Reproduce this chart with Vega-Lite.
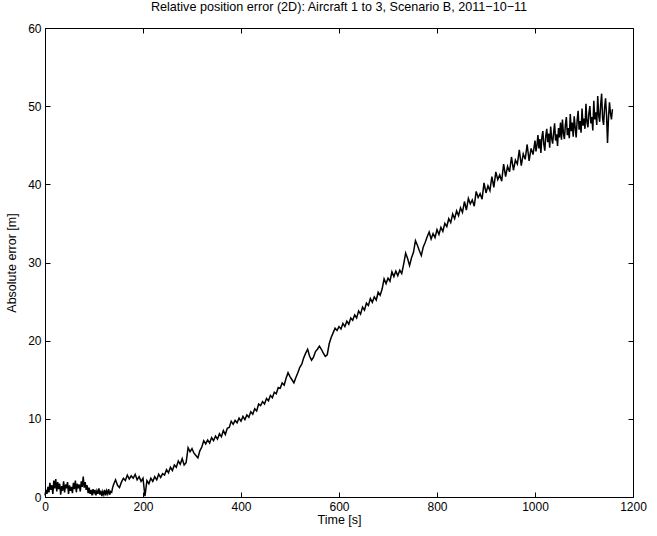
{
  "$schema": "https://vega.github.io/schema/vega-lite/v6.json",
  "autosize": {"type": "none"},
  "width": 588,
  "height": 469,
  "padding": {"left": 45, "top": 28, "right": 24, "bottom": 39},
  "background": "white",
  "title": {
    "text": "Relative position error (2D): Aircraft 1 to 3, Scenario B, 2011−10−11",
    "font": "Liberation Sans",
    "fontSize": 12.6,
    "fontWeight": "normal",
    "color": "black",
    "offset": 8
  },
  "config": {
    "view": {"stroke": null},
    "axis": {
      "domainColor": "black",
      "tickColor": "black",
      "labelColor": "black",
      "titleColor": "black",
      "labelFont": "Liberation Sans",
      "titleFont": "Liberation Sans",
      "labelFontSize": 12,
      "titleFontSize": 12.5,
      "titleFontWeight": "normal",
      "grid": false,
      "tickSize": -5,
      "labelPadding": 9
    }
  },
  "data": {
    "values": [
      {"t":0,"e":0.2},{"t":2,"e":0.9},{"t":4,"e":0.4},{"t":6,"e":1.3},{"t":8,"e":0.6},{"t":10,"e":1.8},{"t":12,"e":0.9},{"t":14,"e":1.5},{"t":16,"e":0.4},{"t":18,"e":2.1},
      {"t":20,"e":1.1},{"t":22,"e":2.3},{"t":24,"e":0.7},{"t":26,"e":1.9},{"t":28,"e":1.0},{"t":30,"e":1.7},{"t":32,"e":0.3},{"t":34,"e":1.4},{"t":36,"e":0.8},{"t":38,"e":2.0},
      {"t":40,"e":0.6},{"t":42,"e":1.6},{"t":44,"e":1.1},{"t":46,"e":1.9},{"t":48,"e":0.4},{"t":50,"e":1.5},{"t":52,"e":0.8},{"t":54,"e":1.3},{"t":56,"e":0.5},{"t":58,"e":1.8},
      {"t":60,"e":1.0},{"t":62,"e":2.1},{"t":64,"e":0.6},{"t":66,"e":1.7},{"t":68,"e":1.1},{"t":70,"e":1.6},{"t":72,"e":0.7},{"t":74,"e":2.0},{"t":76,"e":1.3},{"t":78,"e":2.6},
      {"t":80,"e":1.2},{"t":82,"e":1.9},{"t":84,"e":0.9},{"t":86,"e":1.5},{"t":88,"e":0.5},{"t":90,"e":1.2},{"t":92,"e":0.4},{"t":94,"e":0.9},{"t":96,"e":0.2},{"t":98,"e":1.0},
      {"t":100,"e":0.5},{"t":102,"e":0.9},{"t":104,"e":0.2},{"t":106,"e":0.8},{"t":108,"e":0.4},{"t":110,"e":1.1},{"t":112,"e":0.3},{"t":114,"e":0.8},{"t":116,"e":0.1},{"t":118,"e":0.7},
      {"t":120,"e":0.3},{"t":122,"e":0.9},{"t":124,"e":0.2},{"t":126,"e":0.8},{"t":128,"e":0.4},{"t":130,"e":1.0},{"t":132,"e":0.3},{"t":134,"e":0.7},{"t":136,"e":0.6},{"t":138,"e":1.2},
      {"t":140,"e":1.6},{"t":144,"e":2.2},{"t":148,"e":1.5},{"t":152,"e":1.2},{"t":156,"e":1.9},{"t":160,"e":2.4},{"t":164,"e":2.1},{"t":168,"e":2.8},{"t":172,"e":2.3},{"t":176,"e":2.7},
      {"t":180,"e":2.4},{"t":184,"e":2.9},{"t":188,"e":2.2},{"t":192,"e":2.6},{"t":196,"e":2.0},{"t":200,"e":2.4},{"t":204,"e":0.1},{"t":208,"e":2.1},{"t":212,"e":1.7},{"t":216,"e":2.4},
      {"t":220,"e":2.0},{"t":224,"e":2.6},{"t":228,"e":2.2},{"t":232,"e":2.9},{"t":236,"e":2.5},{"t":240,"e":3.0},{"t":244,"e":2.8},{"t":248,"e":3.5},{"t":252,"e":3.1},{"t":256,"e":3.8},
      {"t":260,"e":3.4},{"t":264,"e":4.1},{"t":268,"e":3.8},{"t":272,"e":4.6},{"t":276,"e":4.2},{"t":280,"e":4.9},{"t":284,"e":4.1},{"t":288,"e":4.4},{"t":292,"e":6.3},{"t":296,"e":5.8},
      {"t":300,"e":6.2},{"t":304,"e":5.6},{"t":308,"e":5.3},{"t":312,"e":5.0},{"t":316,"e":5.9},{"t":320,"e":6.4},{"t":324,"e":7.2},{"t":328,"e":6.8},{"t":332,"e":7.3},{"t":336,"e":6.9},
      {"t":340,"e":7.6},{"t":344,"e":7.2},{"t":348,"e":7.8},{"t":352,"e":7.4},{"t":356,"e":8.1},{"t":360,"e":7.7},{"t":364,"e":8.5},{"t":368,"e":8.0},{"t":372,"e":8.8},{"t":376,"e":8.9},
      {"t":380,"e":9.7},{"t":384,"e":9.3},{"t":388,"e":9.8},{"t":392,"e":9.5},{"t":396,"e":10.1},{"t":400,"e":9.7},{"t":404,"e":10.3},{"t":408,"e":9.9},{"t":412,"e":10.5},{"t":416,"e":10.2},
      {"t":420,"e":10.9},{"t":424,"e":10.6},{"t":428,"e":11.3},{"t":432,"e":11.0},{"t":436,"e":11.9},{"t":440,"e":11.7},{"t":444,"e":12.2},{"t":448,"e":11.9},{"t":452,"e":12.6},{"t":456,"e":12.3},
      {"t":460,"e":13.0},{"t":464,"e":12.7},{"t":468,"e":13.4},{"t":472,"e":13.2},{"t":476,"e":14.0},{"t":480,"e":13.9},{"t":484,"e":14.6},{"t":488,"e":14.3},{"t":492,"e":15.2},{"t":496,"e":15.9},
      {"t":500,"e":15.4},{"t":504,"e":15.0},{"t":508,"e":14.6},{"t":512,"e":15.3},{"t":516,"e":15.9},{"t":520,"e":16.6},{"t":524,"e":17.0},{"t":528,"e":17.8},{"t":532,"e":18.4},{"t":536,"e":18.9},
      {"t":540,"e":18.0},{"t":544,"e":17.5},{"t":548,"e":17.9},{"t":552,"e":18.6},{"t":556,"e":18.9},{"t":560,"e":19.3},{"t":564,"e":18.9},{"t":568,"e":18.4},{"t":572,"e":18.0},{"t":576,"e":18.2},
      {"t":580,"e":19.6},{"t":584,"e":20.4},{"t":588,"e":21.0},{"t":592,"e":21.6},{"t":596,"e":21.3},{"t":600,"e":21.8},{"t":604,"e":21.5},{"t":608,"e":22.2},{"t":612,"e":21.8},{"t":616,"e":22.5},
      {"t":620,"e":22.1},{"t":624,"e":22.9},{"t":628,"e":22.6},{"t":632,"e":23.3},{"t":636,"e":22.9},{"t":640,"e":23.8},{"t":644,"e":23.4},{"t":648,"e":24.3},{"t":652,"e":23.9},{"t":656,"e":24.8},
      {"t":660,"e":24.5},{"t":664,"e":25.4},{"t":668,"e":24.9},{"t":672,"e":25.6},{"t":676,"e":25.2},{"t":680,"e":26.2},{"t":684,"e":25.8},{"t":688,"e":26.6},{"t":692,"e":27.9},{"t":696,"e":27.3},
      {"t":700,"e":28.0},{"t":704,"e":27.6},{"t":708,"e":28.8},{"t":712,"e":28.2},{"t":716,"e":28.9},{"t":720,"e":28.3},{"t":724,"e":29.0},{"t":728,"e":28.6},{"t":732,"e":29.8},{"t":736,"e":31.2},
      {"t":740,"e":30.5},{"t":744,"e":29.6},{"t":748,"e":30.6},{"t":752,"e":31.3},{"t":756,"e":32.8},{"t":760,"e":32.2},{"t":764,"e":31.5},{"t":768,"e":30.9},{"t":772,"e":32.0},{"t":776,"e":32.6},
      {"t":780,"e":33.3},{"t":784,"e":33.9},{"t":788,"e":33.0},{"t":792,"e":33.7},{"t":796,"e":33.2},{"t":800,"e":34.2},{"t":804,"e":33.6},{"t":808,"e":34.5},{"t":812,"e":34.0},{"t":816,"e":35.0},
      {"t":820,"e":34.6},{"t":824,"e":35.6},{"t":828,"e":35.1},{"t":832,"e":36.2},{"t":836,"e":35.6},{"t":840,"e":36.6},{"t":844,"e":36.0},{"t":848,"e":37.0},{"t":852,"e":36.4},{"t":856,"e":37.8},
      {"t":860,"e":36.7},{"t":864,"e":38.2},{"t":868,"e":37.5},{"t":872,"e":38.0},{"t":876,"e":37.2},{"t":880,"e":39.1},{"t":884,"e":38.3},{"t":888,"e":38.8},{"t":892,"e":38.1},{"t":896,"e":40.2},
      {"t":900,"e":38.9},{"t":904,"e":39.8},{"t":908,"e":39.2},{"t":912,"e":41.0},{"t":916,"e":39.6},{"t":920,"e":41.6},{"t":924,"e":40.6},{"t":928,"e":41.2},{"t":932,"e":40.4},{"t":936,"e":42.6},
      {"t":940,"e":41.0},{"t":944,"e":42.3},{"t":948,"e":41.6},{"t":952,"e":43.5},{"t":956,"e":41.8},{"t":960,"e":43.1},{"t":964,"e":42.6},{"t":968,"e":44.4},{"t":972,"e":42.4},{"t":976,"e":43.9},
      {"t":980,"e":43.2},{"t":984,"e":45.1},{"t":988,"e":43.0},{"t":992,"e":44.6},{"t":996,"e":43.8},
      {"t":1000,"e":45.6},{"t":1002,"e":44.2},{"t":1004,"e":45.0},{"t":1006,"e":46.3},{"t":1008,"e":44.6},{"t":1010,"e":45.8},{"t":1012,"e":44.0},{"t":1014,"e":46.0},{"t":1016,"e":46.8},{"t":1018,"e":45.1},
      {"t":1020,"e":44.3},{"t":1022,"e":46.2},{"t":1024,"e":47.1},{"t":1026,"e":45.4},{"t":1028,"e":46.5},{"t":1030,"e":44.7},{"t":1032,"e":47.4},{"t":1034,"e":45.9},{"t":1036,"e":45.2},{"t":1038,"e":46.6},
      {"t":1040,"e":47.8},{"t":1042,"e":45.6},{"t":1044,"e":46.4},{"t":1046,"e":44.9},{"t":1048,"e":47.2},{"t":1050,"e":46.0},{"t":1052,"e":47.9},{"t":1054,"e":45.7},{"t":1056,"e":48.3},{"t":1058,"e":46.5},
      {"t":1060,"e":45.8},{"t":1062,"e":47.6},{"t":1064,"e":48.6},{"t":1066,"e":46.3},{"t":1068,"e":47.2},{"t":1070,"e":45.9},{"t":1072,"e":49.0},{"t":1074,"e":46.8},{"t":1076,"e":47.9},{"t":1078,"e":46.1},
      {"t":1080,"e":48.7},{"t":1082,"e":47.3},{"t":1084,"e":46.0},{"t":1086,"e":48.2},{"t":1088,"e":49.4},{"t":1090,"e":47.0},{"t":1092,"e":48.1},{"t":1094,"e":46.6},{"t":1096,"e":49.7},{"t":1098,"e":47.5},
      {"t":1100,"e":48.4},{"t":1102,"e":47.1},{"t":1104,"e":50.3},{"t":1106,"e":48.0},{"t":1108,"e":47.3},{"t":1110,"e":49.1},{"t":1112,"e":50.0},{"t":1114,"e":47.8},{"t":1116,"e":48.6},{"t":1118,"e":46.9},
      {"t":1120,"e":50.7},{"t":1122,"e":48.3},{"t":1124,"e":49.2},{"t":1126,"e":47.6},{"t":1128,"e":51.3},{"t":1130,"e":48.8},{"t":1132,"e":48.0},{"t":1134,"e":50.2},{"t":1136,"e":51.6},{"t":1138,"e":48.4},
      {"t":1140,"e":47.6},{"t":1142,"e":49.8},{"t":1144,"e":51.0},{"t":1146,"e":48.9},{"t":1148,"e":45.3},{"t":1150,"e":48.5},{"t":1152,"e":50.5},{"t":1154,"e":49.1},{"t":1156,"e":48.3},{"t":1158,"e":49.6}
    ]
  },
  "resolve": {"axis": {"x": "independent", "y": "independent"}},
  "layer": [
    {
      "mark": {"type": "line", "color": "black", "strokeWidth": 1.5, "interpolate": "linear"},
      "encoding": {
        "x": {
          "field": "t", "type": "quantitative",
          "scale": {"domain": [0, 1200], "nice": false, "zero": false},
          "axis": {"orient": "bottom", "title": "Time [s]", "values": [0, 200, 400, 600, 800, 1000, 1200], "format": "d", "titlePadding": 1, "labelFlush": false}
        },
        "y": {
          "field": "e", "type": "quantitative",
          "scale": {"domain": [0, 60], "nice": false},
          "axis": {"orient": "left", "title": "Absolute error [m]", "values": [0, 10, 20, 30, 40, 50, 60], "format": "d", "titlePadding": 9, "labelFlush": false}
        }
      }
    },
    {
      "mark": {"type": "line", "strokeOpacity": 0},
      "encoding": {
        "x": {
          "field": "t", "type": "quantitative",
          "scale": {"domain": [0, 1200], "nice": false, "zero": false},
          "axis": {"orient": "top", "title": null, "labels": false, "values": [0, 200, 400, 600, 800, 1000, 1200]}
        },
        "y": {
          "field": "e", "type": "quantitative",
          "scale": {"domain": [0, 60], "nice": false},
          "axis": {"orient": "right", "title": null, "labels": false, "values": [0, 10, 20, 30, 40, 50, 60]}
        }
      }
    }
  ]
}
